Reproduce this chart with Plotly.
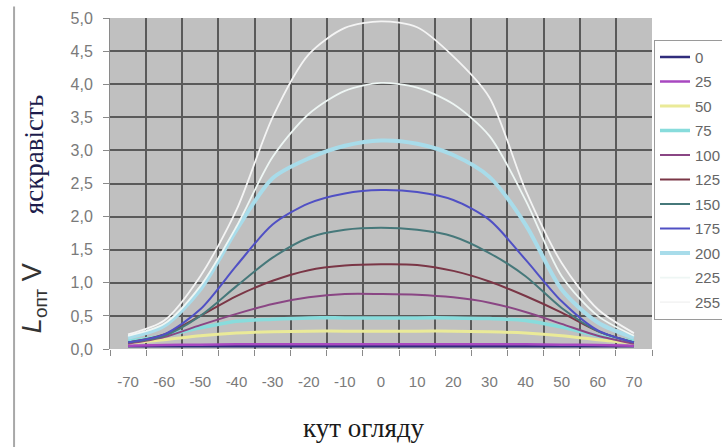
import plotly.graph_objects as go

angles = [-70, -60, -50, -40, -30, -20, -10, 0, 10, 20, 30, 40, 50, 60, 70]
x_tick_labels = ["-70", "-60", "-50", "-40", "-30", "-20", "-10", "0", "10", "20", "30", "40", "50", "60", "70"]
y_tick_vals = [0, 0.5, 1, 1.5, 2, 2.5, 3, 3.5, 4, 4.5, 5]
y_tick_labels = ["0,0", "0,5", "1,0", "1,5", "2,0", "2,5", "3,0", "3,5", "4,0", "4,5", "5,0"]

levels = ["0", "25", "50", "75", "100", "125", "150", "175", "200", "225", "255"]

L0 = [0.04, 0.04, 0.04, 0.04, 0.04, 0.04, 0.04, 0.04, 0.04, 0.04, 0.04, 0.04, 0.04, 0.04, 0.04]
L25 = [0.05, 0.06, 0.065, 0.07, 0.07, 0.07, 0.07, 0.07, 0.07, 0.07, 0.07, 0.07, 0.065, 0.06, 0.05]
L50 = [0.09, 0.14, 0.2, 0.24, 0.26, 0.27, 0.27, 0.27, 0.27, 0.27, 0.26, 0.24, 0.2, 0.14, 0.09]
L75 = [0.12, 0.2, 0.32, 0.42, 0.45, 0.47, 0.47, 0.47, 0.47, 0.47, 0.46, 0.43, 0.33, 0.2, 0.12]
L100 = [0.08, 0.18, 0.36, 0.53, 0.68, 0.78, 0.83, 0.83, 0.82, 0.78, 0.7, 0.56, 0.38, 0.2, 0.08]
L125 = [0.1, 0.22, 0.5, 0.8, 1.03, 1.19, 1.26, 1.28, 1.27, 1.18, 1.02, 0.8, 0.55, 0.27, 0.1]
L150 = [0.1, 0.2, 0.5, 0.95, 1.38, 1.68, 1.8, 1.83, 1.8, 1.7, 1.45, 1.1, 0.62, 0.27, 0.1]
L175 = [0.1, 0.22, 0.6, 1.26, 1.88, 2.2, 2.35, 2.4, 2.37, 2.25, 1.95, 1.35, 0.72, 0.28, 0.1]
L200 = [0.17, 0.35, 0.9, 1.8, 2.58, 2.88, 3.07, 3.15, 3.1, 2.93, 2.6, 1.88, 0.9, 0.4, 0.17]
L225 = [0.2, 0.38, 0.95, 1.85, 2.9, 3.55, 3.9, 4.02, 3.95, 3.7, 3.22, 2.25, 1.1, 0.5, 0.2]
L255 = [0.22, 0.43, 1.1, 2.1, 3.5, 4.45, 4.85, 4.95, 4.86, 4.42, 3.8, 2.4, 1.3, 0.6, 0.24]

series = [L0, L25, L50, L75, L100, L125, L150, L175, L200, L225, L255]
colors = ["#302c7c", "#a848c0", "#eaea98", "#88dcdc", "#8a4684", "#7a3646",
          "#46787a", "#5050c4", "#a8dcea", "#eef6f4", "#f4f4f4"]
widths = [2.5, 2.5, 3, 3.5, 2, 2, 2, 2, 4, 1.8, 1.8]

fig = go.Figure()
for name, ys, c, w in zip(levels, series, colors, widths):
    fig.add_trace(go.Scatter(
        x=angles, y=ys, name=name, mode="lines",
        line=dict(color=c, width=w, shape="spline", smoothing=0.8),
        legendgroup=name,
    ))

grid_col = "#5a5a5a"
fig.update_layout(
    width=722, height=447,
    margin=dict(l=110, r=70, t=18, b=98, autoexpand=False),
    paper_bgcolor="white",
    plot_bgcolor="#c0c0c0",
    font=dict(family="Liberation Sans, Arial, sans-serif", size=15, color="#7a7a7a"),
    showlegend=True,
    legend=dict(
        x=1.0037, xanchor="left", y=0.934, yanchor="top",
        bgcolor="white", bordercolor="#9a9a9a", borderwidth=1,
        font=dict(size=15, color="#666666"),
        tracegroupgap=2, itemwidth=30,
    ),
    xaxis=dict(
        range=[-75, 75], tickvals=angles, ticktext=x_tick_labels,
        showgrid=False, zeroline=False, ticks="", ticklabelstandoff=22,
        showline=False, tickfont=dict(size=15, color="#7a7a7a"),
        minor=dict(tickvals=list(range(-75, 76, 10)), showgrid=True,
                   gridcolor=grid_col, gridwidth=2, ticks="outside",
                   ticklen=6, tickcolor="#8a8a8a", tickwidth=1),
    ),
    yaxis=dict(
        range=[0, 5], tickvals=y_tick_vals, ticktext=y_tick_labels,
        showgrid=True, gridcolor=grid_col, gridwidth=2, zeroline=False,
        ticks="outside", ticklen=6, tickcolor="#8a8a8a",
        showline=True, linecolor="#8a8a8a", linewidth=1,
        ticklabelstandoff=7, tickfont=dict(size=16, color="#7a7a7a"),
    ),
    shapes=[dict(type="line", xref="paper", yref="paper",
                 x0=-0.177, x1=-0.177, y0=-0.3, y1=1.035,
                 line=dict(color="#a8a8a8", width=2))],
    annotations=[
        dict(text="кут огляду", xref="paper", yref="paper",
             x=0.469, y=-0.239, xanchor="center", yanchor="middle",
             showarrow=False,
             font=dict(family="Liberation Serif, Times New Roman, serif", size=27, color="#1a1a1a")),
        dict(text="яскравість", xref="paper", yref="paper",
             x=-0.14, y=0.586, xanchor="center", yanchor="middle",
             textangle=-90, showarrow=False,
             font=dict(family="Liberation Serif, Times New Roman, serif", size=27, color="#1c1c4c")),
        dict(text="<i>L</i><sub>опт</sub> V", xref="paper", yref="paper",
             x=-0.14, y=0.154, xanchor="center", yanchor="middle",
             textangle=-90, showarrow=False,
             font=dict(family="Liberation Sans, Arial, sans-serif", size=27, color="#333333")),
    ],
)

fig.write_html("out.html", config={"displayModeBar": False},
               post_script="document.body.style.margin='0';")
